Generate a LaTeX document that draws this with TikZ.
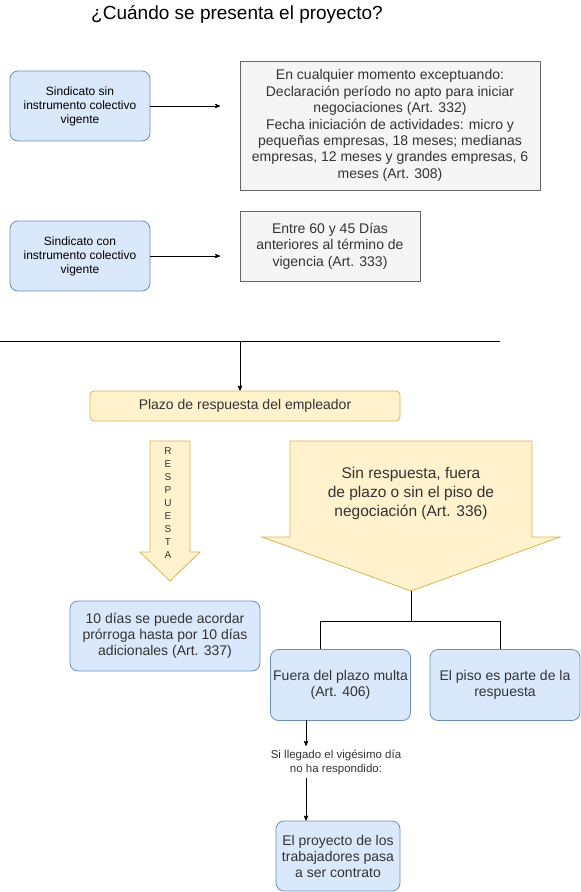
\documentclass[tikz,border=0pt]{standalone}
\usepackage{fontspec}
\setmainfont{Liberation Sans}
\usetikzlibrary{positioning, arrows}
\definecolor{azulFondo}{HTML}{DAE8FC}
\definecolor{azulBorde}{HTML}{6C8EBF}
\definecolor{grisFondo}{HTML}{F5F5F5}
\definecolor{grisBorde}{HTML}{666666}
\definecolor{grisTexto}{HTML}{333333}
\definecolor{amarilloFondo}{HTML}{FFF2CC}
\definecolor{amarilloBorde}{HTML}{D6B656}
\tikzset{>=stealth'}

\begin{document}
\begin{tikzpicture}[x=1pt, y=-1pt, line width=0.8pt,
sindicato/.style={rectangle, rounded corners=8pt, draw=azulBorde, fill=azulFondo, minimum width=140pt, minimum height=70pt, align=center, inner sep=1pt, font=\fontsize{12}{14}\selectfont},
plazo/.style={rectangle, draw=grisBorde, fill=grisFondo, text=grisTexto, align=center, inner sep=1pt, font=\fontsize{14}{16.4}\selectfont},
resultado/.style={rectangle, rounded corners=8pt, draw=azulBorde, fill=azulFondo, text=grisTexto, align=center, inner sep=1pt, font=\fontsize{14}{16}\selectfont},
flecha/.style={draw=amarilloBorde, fill=amarilloFondo, line join=miter}]
    \useasboundingbox (0,0) rectangle (581,892);

    \node[font=\fontsize{19}{22}\selectfont] (titulo) at (237,14) {¿Cuándo se presenta el proyecto?};

    % sindicatos y plazos
    \node[sindicato] (sinInst) at (80,106) {Sindicato sin\\ instrumento colectivo\\ vigente};
    \node[plazo, minimum width=300pt, minimum height=129pt] (plazoSin) at (390,125.5) {En cualquier momento exceptuando:\\ Declaración período no apto para iniciar\\ negociaciones (Art. 332)\\ Fecha iniciación de actividades: micro y\\ pequeñas empresas, 18 meses; medianas\\ empresas, 12 meses y grandes empresas, 6\\ meses (Art. 308)};
    \node[sindicato] (conInst) at (80,256) {Sindicato con\\ instrumento colectivo\\ vigente};
    \node[plazo, minimum width=180pt, minimum height=70pt] (plazoCon) at (330,246) {Entre 60 y 45 Días\\ anteriores al término de\\ vigencia (Art. 333)};
    \coordinate (finSin) at (220,106);
    \coordinate (finCon) at (220,256);
    \draw[->] (sinInst) -- (finSin);
    \draw[->] (conInst) -- (finCon);

    % linea divisoria
    \coordinate (lineaIzq) at (0,341);
    \coordinate (lineaDer) at (500,341);
    \coordinate (lineaBaja) at (240,341);
    \draw (lineaIzq) -- (lineaDer);
    \node[rectangle, rounded corners=4pt, draw=amarilloBorde, fill=amarilloFondo, minimum width=310pt, minimum height=30pt, font=\fontsize{14}{16}\selectfont, text=grisTexto] (empleador) at (245,406) {Plazo de respuesta del empleador};
    \draw[->] (lineaBaja) -- (empleador.north -| lineaBaja);

    % flechas de respuesta
    \draw[flecha] (150,441) -- (190,441) -- (190,552) -- (200,552) -- (170,581) -- (140,552) -- (150,552) -- cycle;
    \node[align=center, font=\fontsize{10}{13}\selectfont, text=grisTexto] (respuesta) at (168,503) {R\\E\\S\\P\\U\\E\\S\\T\\A};
    \draw[flecha] (290,441) -- (532,441) -- (532,537) -- (560,537) -- (411,591) -- (262,537) -- (290,537) -- cycle;
    \node[align=center, font=\fontsize{15.5}{19}\selectfont, text=grisTexto] (sinResp) at (411,493) {Sin respuesta, fuera\\ de plazo o sin el piso de\\ negociación (Art. 336)};
    \coordinate (puntaGrande) at (411,591);

    % resultados
    \node[resultado, minimum width=190pt, minimum height=70pt] (prorroga) at (165,636) {10 días se puede acordar\\ prórroga hasta por 10 días\\ adicionales (Art. 337)};
    \node[resultado, minimum width=140pt, minimum height=71pt] (multa) at (340.5,685) {Fuera del plazo multa\\ (Art. 406)};
    \node[resultado, minimum width=150pt, minimum height=71pt] (piso) at (505,685) {El piso es parte de la\\ respuesta};
    \node[resultado, minimum width=124pt, minimum height=70pt] (contrato) at (338,856) {El proyecto de los\\ trabajadores pasa\\ a ser contrato};
    \coordinate (ramaIzq) at (320,621);
    \coordinate (ramaDer) at (500,621);
    \draw (puntaGrande) -- (puntaGrande |- ramaIzq);
    \draw (ramaIzq |- multa.north) -- (ramaIzq) -- (ramaDer) -- (ramaDer |- piso.north);

    \node[align=center, font=\fontsize{11.5}{14}\selectfont, text=grisTexto] (vigesimo) at (336,762) {Si llegado el vigésimo día\\ no ha respondido:};
    \coordinate (bajaMulta) at (306,720);
    \draw[->] (bajaMulta) -- (bajaMulta |- vigesimo.north);
    \draw[->] (bajaMulta |- vigesimo.south) -- (bajaMulta |- contrato.north);
\end{tikzpicture}
\end{document}
